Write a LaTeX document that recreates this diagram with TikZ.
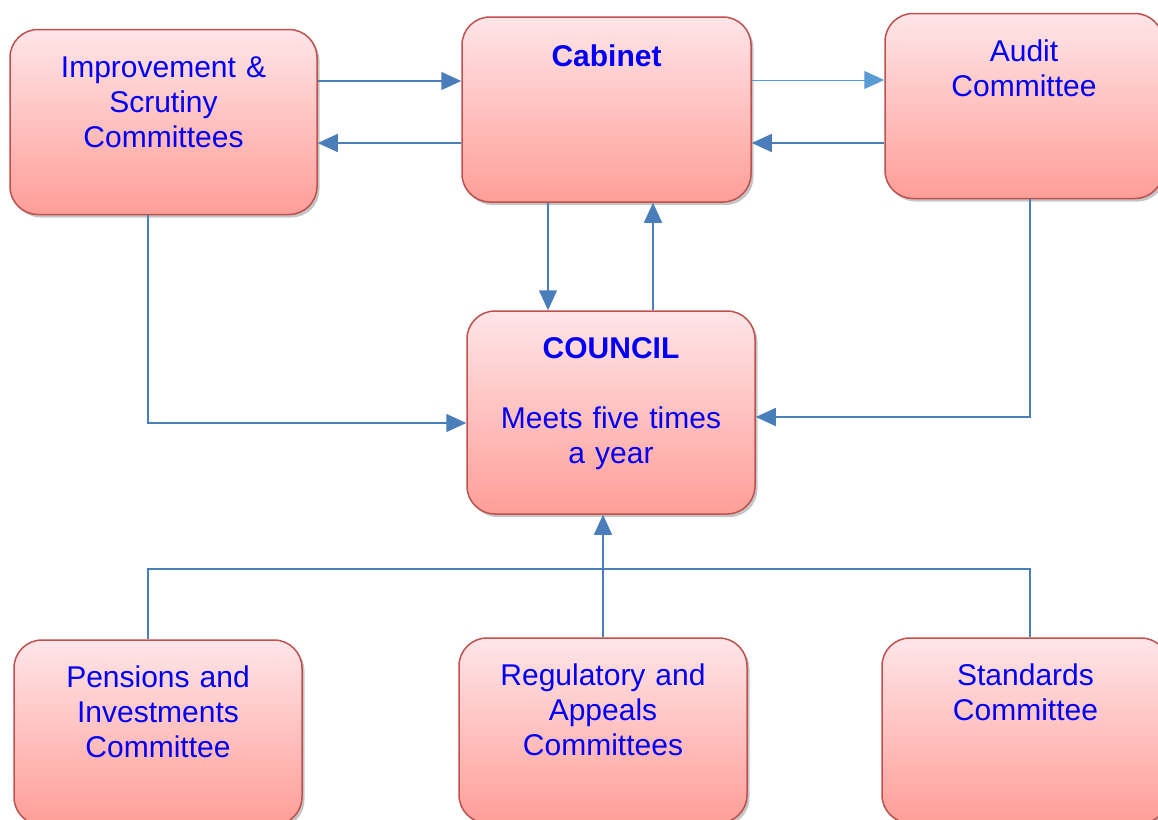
\documentclass[tikz,border=0pt]{standalone}
\usepackage{xcolor}
\usepackage{fontspec}
\setmainfont{Liberation Sans}
\usepackage{tikz}
\usetikzlibrary{shadows, arrows.meta, positioning}

\definecolor{panelline}{RGB}{190,80,77}
\definecolor{paneltop}{RGB}{255,229,232}
\definecolor{panelbottom}{RGB}{255,158,152}
\definecolor{linkblue}{RGB}{74,126,187}
\definecolor{linklight}{RGB}{91,155,213}
\definecolor{labelblue}{RGB}{0,0,245}

\tikzset{
  panel/.style={draw=panelline, line width=1.5pt, rounded corners=28pt,
    top color=paneltop, bottom color=panelbottom,
    drop shadow={shadow xshift=2.5pt, shadow yshift=-3pt, fill=black!45},
    inner sep=0pt, text width=288pt, align=center,
    text height=47.5pt, text depth=137.5pt,
    text=labelblue, font=\fontsize{30}{35}\selectfont},
  link/.style={draw=linkblue, line width=1.5pt},
  flow/.style={-{Triangle[length=20pt,width=18pt]}},
}

\begin{document}
\begin{tikzpicture}[x=1pt, y=-1pt]
    \useasboundingbox (0,0) rectangle (1158,819);

    % top row
    \node[panel, text width=307pt] (scrutiny) at (163.5,122) {Improvement \&\\Scrutiny\\Committees};
    \node[panel, text width=289pt, text height=49pt, text depth=136pt] (cabinet) at (606.5,109.5) {\textbf{Cabinet}};
    \node[panel, text width=278pt] (audit) at (1024,106) {Audit\\Committee};

    % middle
    \node[panel, text depth=155.5pt] (council) at (611,412.5) {\textbf{COUNCIL}\\[35pt]Meets five times\\a year};

    % bottom row
    \node[panel] (pensions) at (158,732.5) {Pensions and\\Investments\\Committee};
    \node[panel] (regulatory) at (603,730.5) {Regulatory and\\Appeals\\Committees};
    \node[panel, text width=287pt] (standards) at (1025.5,730.5) {Standards\\Committee};

    % links between the panels
    \draw[link, flow] (scrutiny.east |- 0,81) -- (cabinet.west |- 0,81);
    \draw[link, flow] (cabinet.west |- 0,143) -- (scrutiny.east |- 0,143);
    \draw[link, flow, draw=linklight, line width=1pt] (cabinet.east |- 0,80) -- (audit.west |- 0,80);
    \draw[link, flow] (audit.west |- 0,143) -- (cabinet.east |- 0,143);
    \draw[link, flow] (cabinet.south -| 548,0) -- (council.north -| 548,0);
    \draw[link, flow] (council.north -| 653,0) -- (cabinet.south -| 653,0);
    \draw[link, flow] (scrutiny.south -| 148,0) |- (council.west |- 0,423);
    \draw[link, flow] (audit.south -| 1030,0) |- (council.east |- 0,417);
    \draw[link] (pensions.north -| 148,0) |- (1030,569) coordinate (busend) -- (standards.north -| busend);
    \draw[link, flow] (regulatory.north) -- (council.south -| regulatory.north);
\end{tikzpicture}
\end{document}
